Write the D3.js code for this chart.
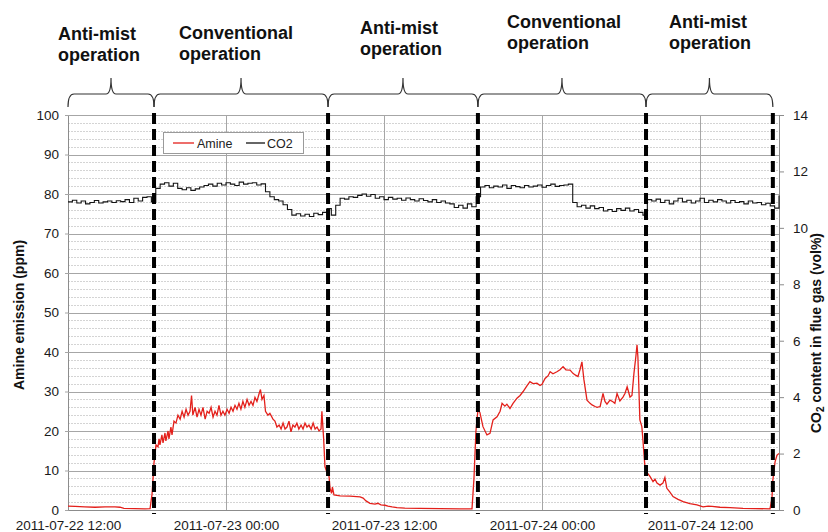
<!DOCTYPE html>
<html>
<head>
<meta charset="utf-8">
<script src="https://cdn.jsdelivr.net/npm/d3@7"></script>
<style>
  html, body { margin: 0; padding: 0; background: #fff; }
  svg { display: block; font-family: Arial, "Liberation Sans", sans-serif; }
</style>
</head>
<body>
<svg id="chart" width="828" height="532"></svg>
<script>
// ---------------- DATA ----------------
const startTime = "2011-07-22 12:00";
const endTime = "2011-07-24 18:00";

// Amine emission (ppm): hours after start, value
const amineHours = [0,0.53,1.29,2.05,2.81,3.57,3.95,4.25,5.09,5.85,6.23,6.38,6.53,6.68,6.84,6.91,6.99,7.14,7.22,7.37,7.44,7.60,7.67,7.82,7.90,8.05,8.20,8.35,8.51,8.66,8.81,8.96,9.11,9.27,9.38,9.49,9.65,9.80,9.95,10.10,10.25,10.41,10.56,10.71,10.86,11.01,11.16,11.32,11.47,11.62,11.77,11.92,12.08,12.23,12.38,12.53,12.68,12.84,12.99,13.14,13.29,13.44,13.60,13.75,13.90,14.05,14.20,14.35,14.51,14.62,14.73,14.89,15.00,15.19,15.34,15.57,15.72,15.87,16.03,16.18,16.33,16.48,16.63,16.78,16.94,17.09,17.24,17.39,17.54,17.70,17.85,18.00,18.15,18.30,18.46,18.61,18.76,18.91,19.06,19.22,19.29,19.41,19.52,19.67,19.82,19.90,20.01,20.09,20.20,20.66,21.42,22.18,22.41,22.63,22.94,23.32,23.54,23.77,24.08,24.30,24.61,24.99,25.59,26.73,28.25,29.77,30.68,30.84,30.99,31.14,31.29,31.52,31.82,32.05,32.28,32.58,32.81,32.96,33.19,33.34,33.57,33.80,34.10,34.33,34.56,34.86,35.09,35.32,35.62,35.85,36.00,36.23,36.46,36.61,36.84,37.14,37.37,37.60,37.82,38.13,38.35,38.51,38.73,38.89,39.04,39.19,39.42,39.65,39.80,40.03,40.18,40.41,40.63,40.78,40.94,41.16,41.39,41.54,41.70,41.92,42.15,42.30,42.46,42.68,42.84,42.99,43.14,43.22,43.29,43.44,43.59,43.67,43.82,43.97,44.20,44.43,44.58,44.73,44.96,45.19,45.34,45.49,45.72,45.95,46.33,46.71,47.24,47.77,48.23,48.61,48.91,49.52,50.28,51.27,52.18,53.32,53.47,53.54,53.70,53.85,54.00];
const amineValues = [1.0,0.9,0.8,0.7,0.8,0.8,0.7,0.4,0.35,0.3,0.35,4,12,16.5,16,18,16.5,19,17,19.5,17.5,20,18,21,19,22.5,22,24,23,25,23.5,25.5,24,25,29,24,26,23.5,25.5,24,26,23,25,24.5,26,23.5,25,24,26.5,24,25,24,25.5,24.5,26,25,26.5,25.5,27,25.5,27.5,26,28,26.5,27.5,26.5,28.5,27.5,29.5,30.5,28,29,25,24,24.5,23,22.5,21,21.5,20.5,22,20.5,21,22.5,19.8,21.5,21,22,20.5,21.5,20.5,22,21,21.5,20.5,22,20.5,21,20,20.5,25,18,11,9.5,8.8,5.5,4.2,5.8,3.8,3.6,3.5,3.3,3.0,2.3,1.7,1.5,1.7,1.3,1.2,1.0,0.8,0.6,0.5,0.4,0.35,0.3,0.3,8,20,25.3,24.7,21.1,19,19.4,22.8,23.6,25,27,26.3,26.8,25.7,27,28.3,29,30,31.5,32.5,32,32.1,31.5,31.8,33.3,34,35,34.5,35,35.5,36.3,35.5,35.4,34.6,34.2,33.8,35.5,37.5,33,27.8,27,26.6,26.2,26,26.2,29.5,27.5,26.8,27.8,27.4,27,29.5,27.6,28.6,29.5,31.2,28.6,29,34.6,39,41.8,38.8,22.8,21.1,17.7,11,9.5,8.5,7.2,7.8,6.8,6.3,6.8,8.2,5.5,4.5,3.4,2.7,2.1,1.6,1.3,0.8,1.0,0.9,0.7,0.6,0.4,0.35,0.3,3,7.6,12.2,13.9,14.3];

// CO2 content (vol%), sampled every 20 minutes from startTime
const co2StepMinutes = 20;
const co2Values = [
  10.92,10.98,10.88,10.95,10.85,10.9,10.97,10.88,10.92,10.95,10.9,10.96,10.93,11.0,10.9,11.05,10.95,11.08,11.1,10.92,
  11.4,11.55,11.6,11.48,11.58,
  11.4,11.35,11.42,11.33,11.38,11.45,
  11.5,11.55,11.48,11.58,11.52,11.6,11.55,11.5,11.62,11.55,11.58,11.6,11.52,11.56,
  11.28,11.1,11.0,10.95,10.82,10.65,
  10.45,10.5,10.42,10.48,10.4,10.52,10.47,10.55,
  10.68,10.45,10.8,
  11.05,11.02,11.1,11.08,11.15,11.2,11.12,11.18,
  11.05,11.1,11.0,11.08,11.02,11.05,10.98,11.06,11.0,10.95,11.03,10.97,10.92,11.0,10.9,10.95,10.88,10.85,
  10.72,10.8,10.7,10.85,10.75,
  11.1,
  11.45,11.5,11.42,11.48,11.45,11.52,11.4,11.5,11.46,11.42,11.5,11.45,11.48,11.52,11.44,11.5,11.55,11.47,11.5,11.52,11.55,
  10.9,
  10.75,10.8,10.7,10.78,10.68,10.72,10.6,10.65,10.58,10.68,10.62,10.7,10.6,10.65,10.55,10.45,
  11.0,
  10.95,11.02,10.9,10.98,10.85,10.95,11.05,10.92,10.98,10.88,10.95,11.05,10.9,10.98,10.92,11.0,10.95,10.88,10.97,10.9,10.93,10.85,10.95,10.88,10.9,10.82,10.87,10.78,10.7,
  11.15
];

// Operation phase boundaries
const phaseBounds = ["2011-07-22 12:00","2011-07-22 18:32","2011-07-23 07:45","2011-07-23 19:08","2011-07-24 07:54","2011-07-24 17:32"];
const dashedTimes = ["2011-07-22 18:32","2011-07-23 07:45","2011-07-23 19:08","2011-07-24 07:54","2011-07-24 17:32"];
const phaseLabels = [["Anti-mist","operation"],["Conventional","operation"],["Anti-mist","operation"],["Conventional","operation"],["Anti-mist","operation"]];

const leftTicks = [0,10,20,30,40,50,60,70,80,90,100];
const rightTicks = [0,2,4,6,8,10,12,14];
const xTickTimes = ["2011-07-22 12:00","2011-07-23 00:00","2011-07-23 12:00","2011-07-24 00:00","2011-07-24 12:00"];
const legendNames = ["Amine","CO2"];

// ---------------- LAYOUT ----------------
const L = { left: 68, right: 779, top: 115, bottom: 510 };
const labelPos = [ {x:58, y:40}, {x:179, y:39}, {x:360, y:34}, {x:507, y:28}, {x:669, y:28} ];
const lineGap = 21;
const colors = { amine: "#e3201b", co2: "#141414", major: "#a6a6a6", minor: "#d4d4d4", axis: "#8c8c8c", text: "#1a1a1a" };

// ---------------- DRAW ----------------
const parse = d3.timeParse("%Y-%m-%d %H:%M");
const t0 = parse(startTime), t1 = parse(endTime);
const svg = d3.select("#chart");

const x = d3.scaleTime().domain([t0, t1]).range([L.left, L.right]);
const yL = d3.scaleLinear().domain([0, 100]).range([L.bottom, L.top]);
const yR = d3.scaleLinear().domain([0, 14]).range([L.bottom, L.top]);

const amine = amineHours.map((h, i) => ({ t: d3.timeMinute.offset(t0, Math.round(h * 60)), v: amineValues[i] }));
const co2 = co2Values.map((v, i) => ({ t: d3.timeMinute.offset(t0, i * co2StepMinutes), v }));

// minor horizontal grid
const minorVals = d3.range(0, 101, 2).filter(v => v % 10 !== 0);
svg.append("g").selectAll("line").data(minorVals).join("line")
  .attr("x1", L.left).attr("x2", L.right)
  .attr("y1", d => Math.round(yL(d)) + 0.5).attr("y2", d => Math.round(yL(d)) + 0.5)
  .attr("stroke", colors.minor).attr("stroke-width", 1).attr("stroke-dasharray", "2,1");

// major horizontal grid via left axis
const gL = svg.append("g").attr("transform", `translate(${L.left},0)`)
  .call(d3.axisLeft(yL).tickValues(leftTicks).tickSize(3).tickPadding(6));
gL.select(".domain").attr("stroke", colors.axis);
gL.selectAll(".tick line").attr("stroke", colors.major);
gL.selectAll(".tick text").attr("font-size", "13.5px").attr("fill", colors.text).attr("font-family", "Arial, 'Liberation Sans', sans-serif");
svg.append("g").selectAll("line").data(leftTicks.filter(v => v > 0)).join("line")
  .attr("x1", L.left).attr("x2", L.right)
  .attr("y1", d => Math.round(yL(d)) + 0.5).attr("y2", d => Math.round(yL(d)) + 0.5)
  .attr("stroke", colors.major).attr("stroke-width", 1);

// vertical grid
svg.append("g").selectAll("line").data(xTickTimes.slice(1).map(parse)).join("line")
  .attr("x1", d => Math.round(x(d)) + 0.5).attr("x2", d => Math.round(x(d)) + 0.5)
  .attr("y1", L.top).attr("y2", L.bottom)
  .attr("stroke", colors.major).attr("stroke-width", 1);

// bottom axis
const gB = svg.append("g").attr("transform", `translate(0,${L.bottom})`)
  .call(d3.axisBottom(x).tickValues(xTickTimes.map(parse)).tickFormat(d3.timeFormat("%Y-%m-%d %H:%M")).tickSize(0).tickPadding(10));
gB.select(".domain").attr("stroke", colors.axis);
gB.selectAll(".tick text").attr("font-size", "13.5px").attr("fill", colors.text).attr("font-family", "Arial, 'Liberation Sans', sans-serif");

// right axis
const gR = svg.append("g").attr("transform", `translate(${L.right},0)`)
  .call(d3.axisRight(yR).tickValues(rightTicks).tickSize(5).tickPadding(9));
gR.select(".domain").attr("stroke", colors.axis);
gR.selectAll(".tick line").attr("stroke", colors.axis);
gR.selectAll(".tick text").attr("font-size", "13.5px").attr("fill", colors.text).attr("font-family", "Arial, 'Liberation Sans', sans-serif");

// top border line
svg.append("line").attr("x1", L.left).attr("x2", L.right).attr("y1", L.top + 0.5).attr("y2", L.top + 0.5).attr("stroke", colors.major);

// lines
svg.append("path").datum(co2)
  .attr("fill", "none").attr("stroke", colors.co2).attr("stroke-width", 1.1)
  .attr("d", d3.line().x(d => x(d.t)).y(d => yR(d.v)).curve(d3.curveStepAfter));
svg.append("path").datum(amine)
  .attr("fill", "none").attr("stroke", colors.amine).attr("stroke-width", 1.3)
  .attr("d", d3.line().x(d => x(d.t)).y(d => yL(d.v)));

// dashed phase separators
svg.append("g").selectAll("line").data(dashedTimes.map(parse)).join("line")
  .attr("x1", d => x(d)).attr("x2", d => x(d))
  .attr("y1", L.top - 2).attr("y2", L.bottom + 4)
  .attr("stroke", "#000").attr("stroke-width", 4).attr("stroke-dasharray", "11,5");

// braces
const braceY = 94, braceEnd = 107, braceTip = 78;
const bounds = phaseBounds.map(s => x(parse(s)));
svg.append("g").selectAll("path").data(d3.pairs(bounds)).join("path")
  .attr("fill", "none").attr("stroke", "#333").attr("stroke-width", 1.2)
  .attr("d", ([a, b]) => {
    const m = (a + b) / 2;
    return `M${a},${braceEnd} Q${a},${braceY} ${a + 6},${braceY} L${m - 5},${braceY} Q${m},${braceY} ${m},${braceTip} Q${m},${braceY} ${m + 5},${braceY} L${b - 6},${braceY} Q${b},${braceY} ${b},${braceEnd}`;
  });

// phase labels
const gLab = svg.append("g").attr("font-weight", "bold").attr("font-size", "18px").attr("fill", "#111");
phaseLabels.forEach((lines, i) => {
  lines.forEach((s, j) => {
    gLab.append("text").attr("x", labelPos[i].x).attr("y", labelPos[i].y + j * lineGap).text(s);
  });
});

// axis titles
svg.append("text")
  .attr("transform", "translate(24,315) rotate(-90)")
  .attr("text-anchor", "middle").attr("font-weight", "bold").attr("font-size", "14px").attr("fill", "#111")
  .text("Amine emission (ppm)");
const rt = svg.append("text")
  .attr("transform", "translate(821,333) rotate(-90)")
  .attr("text-anchor", "middle").attr("font-weight", "bold").attr("font-size", "14px").attr("fill", "#111");
rt.append("tspan").text("CO");
rt.append("tspan").attr("font-size", "10px").attr("dy", 3).text("2");
rt.append("tspan").attr("dy", -3).text(" content in flue gas (vol%)");

// legend
const lg = svg.append("g");
lg.append("rect").attr("x", 163.5).attr("y", 132.5).attr("width", 140).attr("height", 21)
  .attr("fill", "#fff").attr("stroke", "#9a9a9a");
const legendItems = [
  { name: legendNames[0], color: colors.amine, x0: 173, x1: 194, tx: 197 },
  { name: legendNames[1], color: colors.co2, x0: 246, x1: 265, tx: 267 }
];
legendItems.forEach(it => {
  lg.append("line").attr("x1", it.x0).attr("x2", it.x1).attr("y1", 143).attr("y2", 143)
    .attr("stroke", it.color).attr("stroke-width", 1.3);
  lg.append("text").attr("x", it.tx).attr("y", 147.5).attr("font-size", "12.5px").attr("fill", "#222").text(it.name);
});
</script>
</body>
</html>
